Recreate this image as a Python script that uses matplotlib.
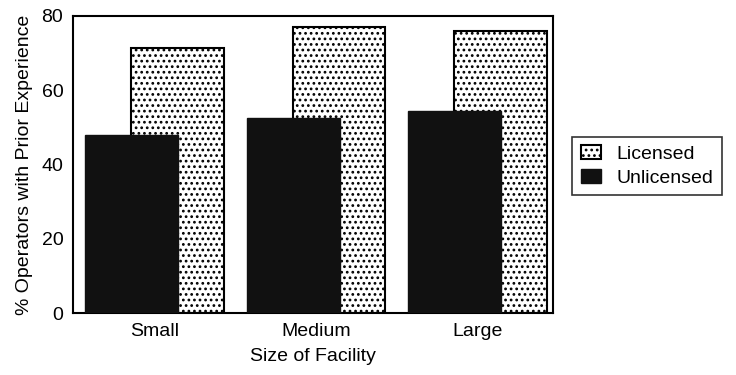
import matplotlib.pyplot as plt
import numpy as np

plt.rcParams['font.family'] = ['Liberation Sans', 'DejaVu Sans']
plt.rcParams['hatch.linewidth'] = 1.2

sizes = ['Small', 'Medium', 'Large']
licensed = [71.5, 77, 76]
unlicensed = [48, 52.5, 54.5]

x = np.arange(len(sizes))
width = 0.575
offset = 0.142

fig = plt.figure(figsize=(7.36, 3.75), dpi=100)
ax = fig.add_axes([73 / 736, 1 - 313 / 375, 480 / 736, 297 / 375])

ax.bar(x + offset, licensed, width, color='white', edgecolor='black',
       hatch='...', linewidth=1.5, label='Licensed', zorder=2)
ax.bar(x - offset, unlicensed, width, color='#111111', edgecolor='#111111',
       linewidth=1.0, label='Unlicensed', zorder=3)

ax.set_xlim(-0.505, 2.467)
ax.set_ylim(0, 80)
ax.set_yticks([0, 20, 40, 60, 80])
ax.set_xticks(x)
ax.set_xticklabels(sizes)
ax.tick_params(axis='both', length=0, labelsize=14, pad=7)
for s in ax.spines.values():
    s.set_linewidth(1.5)

ax.set_xlabel('Size of Facility', fontsize=14, labelpad=6)
ax.set_ylabel('% Operators with Prior Experience', fontsize=14, labelpad=6)

leg = ax.legend(loc='center left', bbox_to_anchor=(1.02, 0.495), fontsize=14,
                frameon=True, fancybox=False, edgecolor='black',
                handlelength=1.0, handleheight=0.7, borderpad=0.45,
                labelspacing=0.3, handletextpad=0.8)
leg.get_frame().set_linewidth(1.2)

plt.savefig('out.png', dpi=100)
